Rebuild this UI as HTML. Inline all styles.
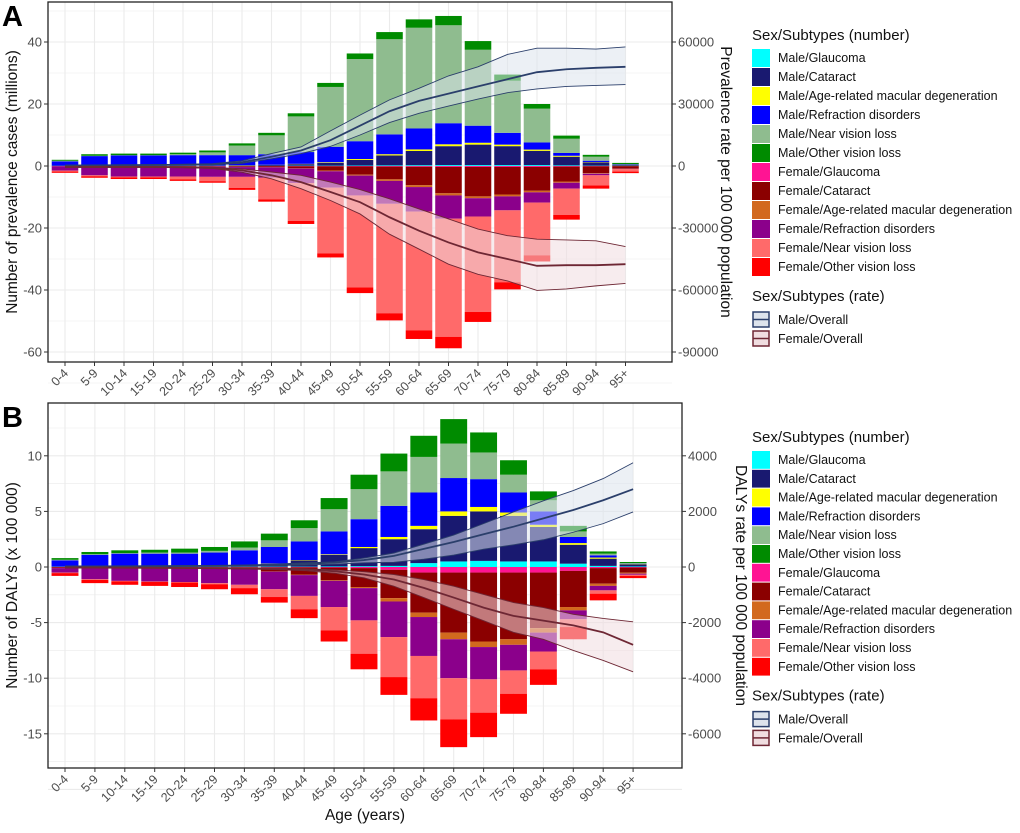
<!DOCTYPE html>
<html><head><meta charset="utf-8">
<style>
html,body{margin:0;padding:0;background:#fff;}
body{width:1020px;height:828px;overflow:hidden;font-family:"Liberation Sans",Arial,sans-serif;}
svg text{font-family:"Liberation Sans",Arial,sans-serif;}
</style></head>
<body>
<svg id="chart" width="1020" height="828" xmlns="http://www.w3.org/2000/svg"></svg>
<script>
const ages=["0-4","5-9","10-14","15-19","20-24","25-29","30-34","35-39","40-44","45-49","50-54","55-59","60-64","65-69","70-74","75-79","80-84","85-89","90-94","95+"];
const subtypes=["Glaucoma","Cataract","Age-related macular degeneration","Refraction disorders","Near vision loss","Other vision loss"];
const maleColors=["#00FFFF","#191970","#FFFF00","#0000FF","#8FBC8F","#008B00"];
const femaleColors=["#FF1493","#8B0000","#D2691E","#8B008B","#FF6A6A","#FF0000"];
// Panel A: prevalence (millions), components per subtype
const aMaleGlaucoma=[0.05,0.05,0.05,0.05,0.05,0.05,0.05,0.05,0.1,0.1,0.15,0.2,0.25,0.3,0.3,0.3,0.3,0.2,0.1,0.05];
const aMaleCataract=[0.1,0.1,0.1,0.1,0.1,0.15,0.2,0.3,0.5,0.9,1.8,3.2,4.6,6.1,6.6,6.1,4.6,2.8,1.1,0.25];
const aMaleAmd=[0,0,0,0,0,0,0.05,0.05,0.1,0.2,0.3,0.4,0.5,0.6,0.6,0.5,0.4,0.3,0.1,0.05];
const aMaleRefraction=[1.35,3.05,3.25,3.25,3.35,3.3,3.2,3.4,3.8,5.0,5.75,6.4,6.75,6.8,5.5,3.8,2.3,0.9,0.4,0.15];
const aMaleNear=[0.2,0.1,0.1,0.1,0.3,0.9,3.1,6.1,11.5,19.3,26.5,30.7,32.5,31.6,24.5,16.8,10.9,4.6,1.3,0.1];
const aMaleOther=[0.3,0.5,0.5,0.5,0.5,0.6,0.7,0.8,1.0,1.3,1.8,2.3,2.7,3.0,2.8,2.0,1.5,1.0,0.6,0.4];
const aFemaleGlaucoma=[0.05,0.05,0.05,0.05,0.05,0.05,0.05,0.05,0.1,0.1,0.15,0.2,0.25,0.3,0.3,0.3,0.3,0.2,0.1,0.05];
const aFemaleCataract=[0.05,0.15,0.15,0.15,0.15,0.15,0.25,0.35,0.6,1.4,2.65,4.1,5.95,8.5,9.5,8.9,7.7,4.8,2.2,0.75];
const aFemaleAmd=[0,0,0,0,0,0,0.05,0.05,0.1,0.2,0.3,0.5,0.6,0.7,0.6,0.6,0.5,0.4,0.2,0.1];
const aFemaleRefraction=[1.4,2.8,3.2,3.2,3.2,3.3,3.15,3.35,4.7,5.3,6.4,7.4,7.9,7.5,5.9,4.5,3.3,1.9,0.5,0.1];
const aFemaleNear=[0.3,0.3,0.3,0.3,0.9,1.4,3.6,7.0,12.2,21.2,29.7,35.3,38.3,38.1,30.8,23.2,17.0,8.5,3.3,0.8];
const aFemaleOther=[0.4,0.5,0.5,0.5,0.5,0.5,0.6,0.7,1.0,1.3,1.8,2.3,2.8,3.7,3.2,2.3,2.0,1.5,1.0,0.5];
const aMaleRateMean=[200,300,400,500,600,800,1800,4500,7500,12500,19500,26500,31500,35000,38500,42000,45400,46800,47500,48000];
const aMaleRateUpper=[300,400,500,600,800,1100,2500,6000,9200,17000,24600,32000,37600,43600,48000,54000,57000,57000,56600,57600];
const aMaleRateLower=[100,200,300,400,450,600,1300,3500,6000,9500,15000,21000,25500,29000,32400,35500,37300,38500,39000,39400];
const aFemaleRateMean=[-500,-500,-500,-500,-600,-900,-2100,-4500,-7800,-12600,-17500,-24800,-31300,-37000,-41800,-45000,-48300,-48000,-48000,-47500];
const aFemaleRateUpper=[-300,-300,-300,-300,-400,-600,-1400,-2900,-4500,-7800,-11400,-15900,-20800,-25600,-30500,-33700,-35400,-35800,-36200,-39000];
const aFemaleRateLower=[-700,-700,-700,-700,-800,-1200,-3000,-6200,-11000,-16700,-23200,-33000,-40200,-47500,-52400,-55600,-60200,-59500,-58000,-56800];
const aLeftTicks=[40,20,0,-20,-40,-60];
const aRightTicks=[60000,30000,0,-30000,-60000,-90000];
// Panel B: DALYs (x 100 000)
const bMaleGlaucoma=[0.02,0.02,0.02,0.02,0.02,0.02,0.02,0.03,0.03,0.05,0.07,0.1,0.35,0.5,0.55,0.5,0.5,0.3,0.1,0.05];
const bMaleCataract=[0.03,0.03,0.03,0.03,0.03,0.06,0.1,0.27,0.57,1.05,1.63,2.4,3.05,4.1,4.45,4.1,3.1,1.7,0.65,0.2];
const bMaleAmd=[0,0,0,0,0,0,0,0.02,0.03,0.05,0.1,0.2,0.3,0.4,0.4,0.3,0.2,0.15,0.1,0.03];
const bMaleRefraction=[0.55,1.05,1.15,1.15,1.15,1.22,1.38,1.48,1.67,2.05,2.5,2.8,3.0,3.0,2.5,1.8,1.2,0.55,0.2,0.02];
const bMaleNear=[0.05,0.05,0.05,0.1,0.1,0.15,0.25,0.6,1.2,2.0,2.7,3.1,3.2,3.1,2.4,1.6,1.0,0.5,0.15,0.05];
const bMaleOther=[0.15,0.2,0.25,0.25,0.35,0.35,0.55,0.6,0.7,1.0,1.3,1.6,1.9,2.2,1.8,1.3,0.8,0.5,0.2,0.1];
const bFemaleGlaucoma=[0.02,0.02,0.02,0.02,0.02,0.02,0.02,0.03,0.03,0.05,0.1,0.25,0.5,0.5,0.5,0.5,0.5,0.35,0.1,0.05];
const bFemaleCataract=[0.08,0.08,0.08,0.08,0.08,0.08,0.13,0.37,0.67,1.15,1.7,2.55,3.6,5.4,6.2,6.0,5.0,3.25,1.4,0.45];
const bFemaleAmd=[0,0,0,0,0,0,0,0.02,0.03,0.05,0.1,0.3,0.4,0.6,0.5,0.5,0.4,0.3,0.2,0.1];
const bFemaleRefraction=[0.4,1.0,1.15,1.2,1.25,1.35,1.45,1.58,1.87,2.35,2.9,3.2,3.5,3.5,2.9,2.3,1.7,0.8,0.4,0.1];
const bFemaleNear=[0.05,0.05,0.05,0.05,0.05,0.1,0.3,0.7,1.2,2.1,3.0,3.6,3.8,3.7,3.0,2.1,1.6,0.7,0.3,0.1];
const bFemaleOther=[0.25,0.3,0.3,0.35,0.4,0.45,0.55,0.5,0.8,1.0,1.4,1.6,2.0,2.5,2.2,1.8,1.4,1.1,0.6,0.2];
const bMaleRateMean=[20,20,25,30,35,40,50,70,110,160,250,400,650,900,1180,1450,1750,2050,2400,2800];
const bMaleRateUpper=[30,30,35,40,45,55,70,100,150,180,320,500,820,1150,1560,1980,2380,2750,3180,3750];
const bMaleRateLower=[10,10,15,20,25,30,35,50,70,100,150,170,280,430,640,800,980,1250,1560,1980];
const bFemaleRateMean=[-20,-20,-25,-30,-35,-40,-50,-60,-90,-150,-270,-450,-750,-1100,-1460,-1760,-1930,-2100,-2350,-2800];
const bFemaleRateUpper=[-10,-10,-15,-20,-25,-30,-35,-40,-60,-100,-170,-270,-450,-690,-985,-1280,-1460,-1700,-1850,-1970];
const bFemaleRateLower=[-30,-30,-35,-40,-45,-55,-70,-90,-130,-220,-390,-690,-1100,-1520,-1930,-2350,-2600,-3000,-3360,-3770];
const bLeftTicks=[10,5,0,-5,-10,-15];
const bRightTicks=[4000,2000,0,-2000,-4000,-6000];

const NS="http://www.w3.org/2000/svg";
const svg=document.getElementById('chart');
function mk(tag,attrs,parent){const e=document.createElementNS(NS,tag);for(const k in attrs)e.setAttribute(k,attrs[k]);(parent||svg).appendChild(e);return e;}

function drawPanel(p){
  const g=mk('g',{});
  
  
  const y=v=>p.zeroY-v*p.pxPerUnit;
  const yr=r=>y(r/p.rateScale);
  const x=i=>p.x0+i*p.step;
  const minV=(p.zeroY-p.bottom)/p.pxPerUnit, maxV=(p.zeroY-p.top)/p.pxPerUnit;
  const tickStep=p.leftTicks[0]-p.leftTicks[1];
  for(let v=Math.ceil(-minV/ (tickStep/2))*(-tickStep/2); v<=maxV; v+=tickStep/2){
    const major=Math.abs(v/tickStep-Math.round(v/tickStep))<1e-6;
    const l=mk('line',{x1:p.left,x2:p.right,y1:y(v),y2:y(v),stroke:'#ebebeb','stroke-width':major?1.1:0.6},g);
    
    
  }
  ages.forEach((a,i)=>{
    const l=mk('line',{x1:x(i),x2:x(i),y1:p.top,y2:p.bottom,stroke:'#ebebeb','stroke-width':1.1},g);
    
    
  });
  const bw=p.step*0.9;
  ages.forEach((a,i)=>{
    let cum=0;
    p.male.forEach((arr,k)=>{
      const v=arr[i];
      const r=mk('rect',{x:x(i)-bw/2,y:y(cum+v),width:bw,height:Math.max(0,y(cum)-y(cum+v)),fill:maleColors[k]},g);
      
      
      cum+=v;
    });
    cum=0;
    p.female.forEach((arr,k)=>{
      const v=arr[i];
      const r=mk('rect',{x:x(i)-bw/2,y:y(-cum),width:bw,height:Math.max(0,y(-cum-v)-y(-cum)),fill:femaleColors[k]},g);
      
      
      cum+=v;
    });
  });
  function band(mean,upper,lower,fill,stroke,name){
    let d='M'+upper.map((v,i)=>x(i)+','+yr(v)).join('L');
    for(let i=lower.length-1;i>=0;i--)d+='L'+x(i)+','+yr(lower[i]);
    d+='Z';
    const b=mk('path',{d:d,fill:fill,'fill-opacity':0.55,stroke:'none'},g);
    
    
    [[upper,0.9],[lower,0.9],[mean,1.8]].forEach(([arr,w],j)=>{
      const l=mk('polyline',{points:arr.map((v,i)=>x(i)+','+yr(v)).join(' '),fill:'none',stroke:stroke,'stroke-width':w},g);
      
      
    });
  }
  band(p.mRate[0],p.mRate[1],p.mRate[2],'#dde3ec','#2b3f6b','male-rate');
  band(p.fRate[0],p.fRate[1],p.fRate[2],'#f0dde0','#6e2734','female-rate');
  const f=mk('rect',{x:p.left,y:p.top,width:p.right-p.left,height:p.bottom-p.top,fill:'none',stroke:'#222','stroke-width':1.3},g);
  
  
  p.leftTicks.forEach(v=>{
    mk('line',{x1:p.left-4,x2:p.left,y1:y(v),y2:y(v),stroke:'#333'},g);
    const t=mk('text',{x:p.left-6,y:y(v)+4.5,'text-anchor':'end','font-size':13,fill:'#4d4d4d'},g);
    t.textContent=v;
    
    
  });
  p.rightTicks.forEach(v=>{
    mk('line',{x1:p.right,x2:p.right+4,y1:yr(v),y2:yr(v),stroke:'#333'},g);
    const t=mk('text',{x:p.right+6,y:yr(v)+4.5,'font-size':13,fill:'#4d4d4d'},g);
    t.textContent=v;
    
    
  });
  ages.forEach((a,i)=>{
    mk('line',{x1:x(i),x2:x(i),y1:p.bottom,y2:p.bottom+4,stroke:'#333'},g);
    const t=mk('text',{x:x(i)+4,y:p.bottom+12,'text-anchor':'end','font-size':12.5,fill:'#4d4d4d',transform:'rotate(-45 '+(x(i)+4)+' '+(p.bottom+12)+')'},g);
    t.textContent=a;
    
    
  });
  const cy=(p.top+p.bottom)/2;
  const yt=mk('text',{x:p.leftTitleX,y:cy,'text-anchor':'middle','font-size':15.5,fill:'#111',transform:'rotate(-90 '+p.leftTitleX+' '+cy+')'},g);
  yt.textContent=p.leftTitle;
  
  
  const rt=mk('text',{x:p.rightTitleX,y:cy,'text-anchor':'middle','font-size':15.5,fill:'#111',transform:'rotate(90 '+p.rightTitleX+' '+cy+')'},g);
  rt.textContent=p.rightTitle;
  
  
  const lab=mk('text',{x:2,y:p.top+24,'font-size':29,'font-weight':'bold',fill:'#000'},g);
  lab.textContent=p.id.toUpperCase();
  
  
  const L=mk('g',{},g);
  
  
  const lt=mk('text',{x:752,y:p.legY,'font-size':15,fill:'#111'},L);
  lt.textContent='Sex/Subtypes (number)';
  
  
  const names=subtypes.map(s=>'Male/'+s).concat(subtypes.map(s=>'Female/'+s));
  const cols=maleColors.concat(femaleColors);
  names.forEach((n,k)=>{
    const ky=p.legY+9+k*p.legStep;
    const r=mk('rect',{x:752,y:ky,width:18,height:p.legStep-1,fill:cols[k]},L);
    
    
    const t=mk('text',{x:778,y:ky+13,'font-size':12.5,fill:'#111'},L);
    t.textContent=n;
    
    
  });
  const ry=p.legY+9+12*p.legStep+24;
  const lt2=mk('text',{x:752,y:ry,'font-size':15,fill:'#111'},L);
  lt2.textContent='Sex/Subtypes (rate)';
  
  
  [['Male/Overall','#dde3ec','#2b3f6b'],['Female/Overall','#f0dde0','#6e2734']].forEach(([n,fc,sc],k)=>{
    const ky=ry+11+k*p.legStep;
    const r=mk('rect',{x:753,y:ky,width:16,height:15,fill:fc,stroke:sc,'stroke-width':1.5},L);
    
    
    mk('line',{x1:753,x2:769,y1:ky+7.5,y2:ky+7.5,stroke:sc,'stroke-width':1.5},L);
    const t=mk('text',{x:778,y:ky+12,'font-size':12.5,fill:'#111'},L);
    t.textContent=n;
    
    
  });
}

drawPanel({id:'a',left:48,right:672,top:2,bottom:362,zeroY:166,pxPerUnit:3.1,x0:65,step:29.5,rateScale:1500,
  male:[aMaleGlaucoma,aMaleCataract,aMaleAmd,aMaleRefraction,aMaleNear,aMaleOther],
  female:[aFemaleGlaucoma,aFemaleCataract,aFemaleAmd,aFemaleRefraction,aFemaleNear,aFemaleOther],
  mRate:[aMaleRateMean,aMaleRateUpper,aMaleRateLower],fRate:[aFemaleRateMean,aFemaleRateUpper,aFemaleRateLower],
  leftTicks:aLeftTicks,rightTicks:aRightTicks,leftTitle:'Number of prevalence cases (millions)',rightTitle:'Prevalence rate per 100 000 population',
  leftTitleX:17,rightTitleX:721,legY:40,legStep:19});
drawPanel({id:'b',left:48,right:682,top:403,bottom:768,zeroY:567,pxPerUnit:11.12,x0:65,step:29.9,rateScale:400,
  male:[bMaleGlaucoma,bMaleCataract,bMaleAmd,bMaleRefraction,bMaleNear,bMaleOther],
  female:[bFemaleGlaucoma,bFemaleCataract,bFemaleAmd,bFemaleRefraction,bFemaleNear,bFemaleOther],
  mRate:[bMaleRateMean,bMaleRateUpper,bMaleRateLower],fRate:[bFemaleRateMean,bFemaleRateUpper,bFemaleRateLower],
  leftTicks:bLeftTicks,rightTicks:bRightTicks,leftTitle:'Number of DALYs (x 100 000)',rightTitle:'DALYs rate per 100 000 population',
  leftTitleX:17,rightTitleX:736,legY:442,legStep:18.8});
const xt=mk('text',{x:365,y:820,'text-anchor':'middle','font-size':15.5,fill:'#111'});
xt.textContent='Age (years)';


</script>
</body></html>
